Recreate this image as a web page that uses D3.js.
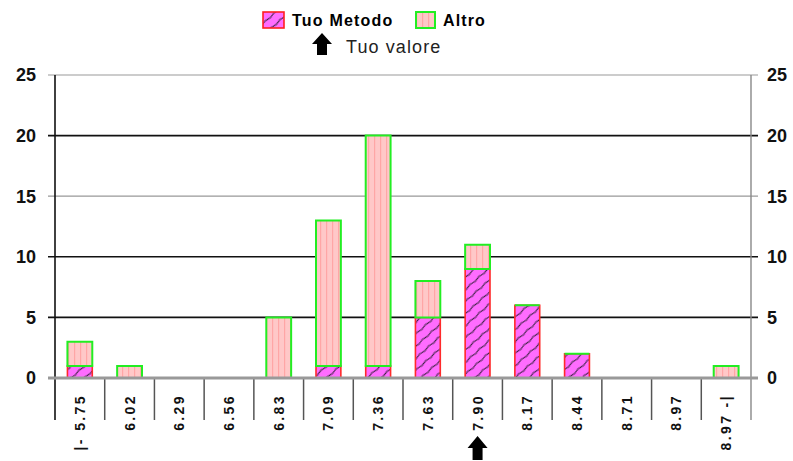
<!DOCTYPE html>
<html><head><meta charset="utf-8">
<script src="https://cdn.jsdelivr.net/npm/d3@7"></script>
<style>body{margin:0;background:#fff}svg{display:block}</style>
</head><body>
<script>
const categories = ["|- 5.75","6.02","6.29","6.56","6.83","7.09","7.36","7.63","7.90","8.17","8.44","8.71","8.97","8.97 -|"];
const tuoMetodo = [1,0,0,0,0,1,1,5,9,6,2,0,0,0];
const altro     = [2,1,0,0,5,12,19,3,2,0,0,0,0,1];
const yTicks = [0,5,10,15,20,25];
const seriesNames = ["Tuo Metodo","Altro"];
const markerLabel = "Tuo valore";
const markerCategory = "7.90";

const W=793,H=461;
const svg=d3.select("body").append("svg").attr("width",W).attr("height",H);
const defs=svg.append("defs");
// hatch for Tuo Metodo
const p1=defs.append("pattern").attr("id","hatchA").attr("patternUnits","userSpaceOnUse").attr("width",12).attr("height",9).attr("patternTransform","rotate(-42)");
p1.append("rect").attr("width",12).attr("height",9).attr("fill","#ff6cff");
p1.append("path").attr("d","M0,4.5 Q3,3.3 6,4.5 T12,4.5").attr("stroke","#2a1a30").attr("stroke-width",1).attr("fill","none");
// stripes for Altro
const p2=defs.append("pattern").attr("id","hatchB").attr("patternUnits","userSpaceOnUse").attr("width",6).attr("height",6);
p2.append("rect").attr("width",6).attr("height",6).attr("fill","#ffc8c8");
p2.append("rect").attr("x",2).attr("width",1.2).attr("height",6).attr("fill","#ffa6a6");

const x=d3.scaleBand().domain(categories).range([55,751]).padding(0);
const y=d3.scaleLinear().domain([0,25]).range([378,75]);
const font="Liberation Sans, Arial, sans-serif";

// gridlines
const darkLines=[5,10,20];
svg.append("g").selectAll("line").data(yTicks.filter(d=>d>0)).join("line")
  .attr("x1",48).attr("x2",758).attr("y1",d=>y(d)).attr("y2",d=>y(d))
  .attr("stroke",d=>darkLines.includes(d)?"#111":"#999").attr("stroke-width",d=>darkLines.includes(d)?1.6:1.2);

// bars
const bw=x.bandwidth()*0.5;
function seg(x0,y0,y1){return `M${x0},${y1}h${bw}V${y0}h${-bw}Z`;}
const g=svg.append("g");
categories.forEach((c,i)=>{
  const x0=x(c)+(x.bandwidth()-bw)/2;
  const a=tuoMetodo[i], b=altro[i];
  if(a+b===0) return;
  g.append("path").attr("d",seg(x0,y(0),y(a))).attr("fill","url(#hatchA)").attr("stroke","#ff2a2a").attr("stroke-width",1.6);
  g.append("path").attr("d",seg(x0,y(a),y(a+b))).attr("fill","url(#hatchB)").attr("stroke","#22ee22").attr("stroke-width",2);
});

// axes
svg.append("line").attr("x1",55).attr("x2",55).attr("y1",75).attr("y2",420).attr("stroke","#111").attr("stroke-width",1.6);
svg.append("line").attr("x1",751).attr("x2",751).attr("y1",75).attr("y2",420).attr("stroke","#888").attr("stroke-width",1.4);
svg.append("g").selectAll("line").data(d3.range(1,categories.length)).join("line")
  .attr("x1",i=>x(categories[i])).attr("x2",i=>x(categories[i])).attr("y1",378).attr("y2",420)
  .attr("stroke","#555").attr("stroke-width",1.5);
svg.append("line").attr("x1",48).attr("x2",758).attr("y1",378).attr("y2",378).attr("stroke","#999").attr("stroke-width",3);

// y labels
const yl=svg.append("g").attr("font-family",font).attr("font-weight","bold").attr("font-size",18).attr("fill","#111");
yl.selectAll("text.l").data(yTicks).join("text").attr("class","l").attr("x",36).attr("y",d=>y(d)).attr("dy","0.36em").attr("text-anchor","end").text(d=>d);
yl.selectAll("text.r").data(yTicks).join("text").attr("class","r").attr("x",767).attr("y",d=>y(d)).attr("dy","0.36em").attr("text-anchor","start").text(d=>d);

// x labels
svg.append("g").selectAll("text").data(categories).join("text")
  .attr("transform",d=>`translate(${x(d)+x.bandwidth()/2},394) rotate(-90)`)
  .attr("text-anchor","end").attr("dy","0.36em")
  .attr("font-family",font).attr("font-weight","bold").attr("font-size",14).attr("letter-spacing",2.4).attr("fill","#111")
  .text(d=>d);

// arrow marker
function arrow(cx,top,h,w){
  const hh=h*0.5, sw=w*0.5;
  return `M${cx},${top}L${cx+w/2},${top+hh}L${cx+sw/2},${top+hh}L${cx+sw/2},${top+h}L${cx-sw/2},${top+h}L${cx-sw/2},${top+hh}L${cx-w/2},${top+hh}Z`;
}
svg.append("path").attr("d",arrow(x(markerCategory)+x.bandwidth()/2,436,24,20)).attr("fill","#000");

// legend
const lg=svg.append("g").attr("font-family",font);
lg.append("rect").attr("x",263).attr("y",12).attr("width",21).attr("height",16).attr("fill","url(#hatchA)").attr("stroke","#ff2020").attr("stroke-width",1.6);
lg.append("text").attr("x",292).attr("y",20).attr("dy","0.36em").attr("font-weight","bold").attr("font-size",16).attr("letter-spacing",1.2).text(seriesNames[0]);
lg.append("rect").attr("x",416).attr("y",12).attr("width",19).attr("height",16).attr("fill","url(#hatchB)").attr("stroke","#22ee22").attr("stroke-width",2);
lg.append("text").attr("x",443).attr("y",20).attr("dy","0.36em").attr("font-weight","bold").attr("font-size",16).attr("letter-spacing",1.1).text(seriesNames[1]);
lg.append("path").attr("d",arrow(322,33,22,20)).attr("fill","#000");
lg.append("text").attr("x",346).attr("y",47).attr("dy","0.36em").attr("font-size",18).attr("letter-spacing",1.1).attr("fill","#222").text(markerLabel);
</script>
</body></html>
